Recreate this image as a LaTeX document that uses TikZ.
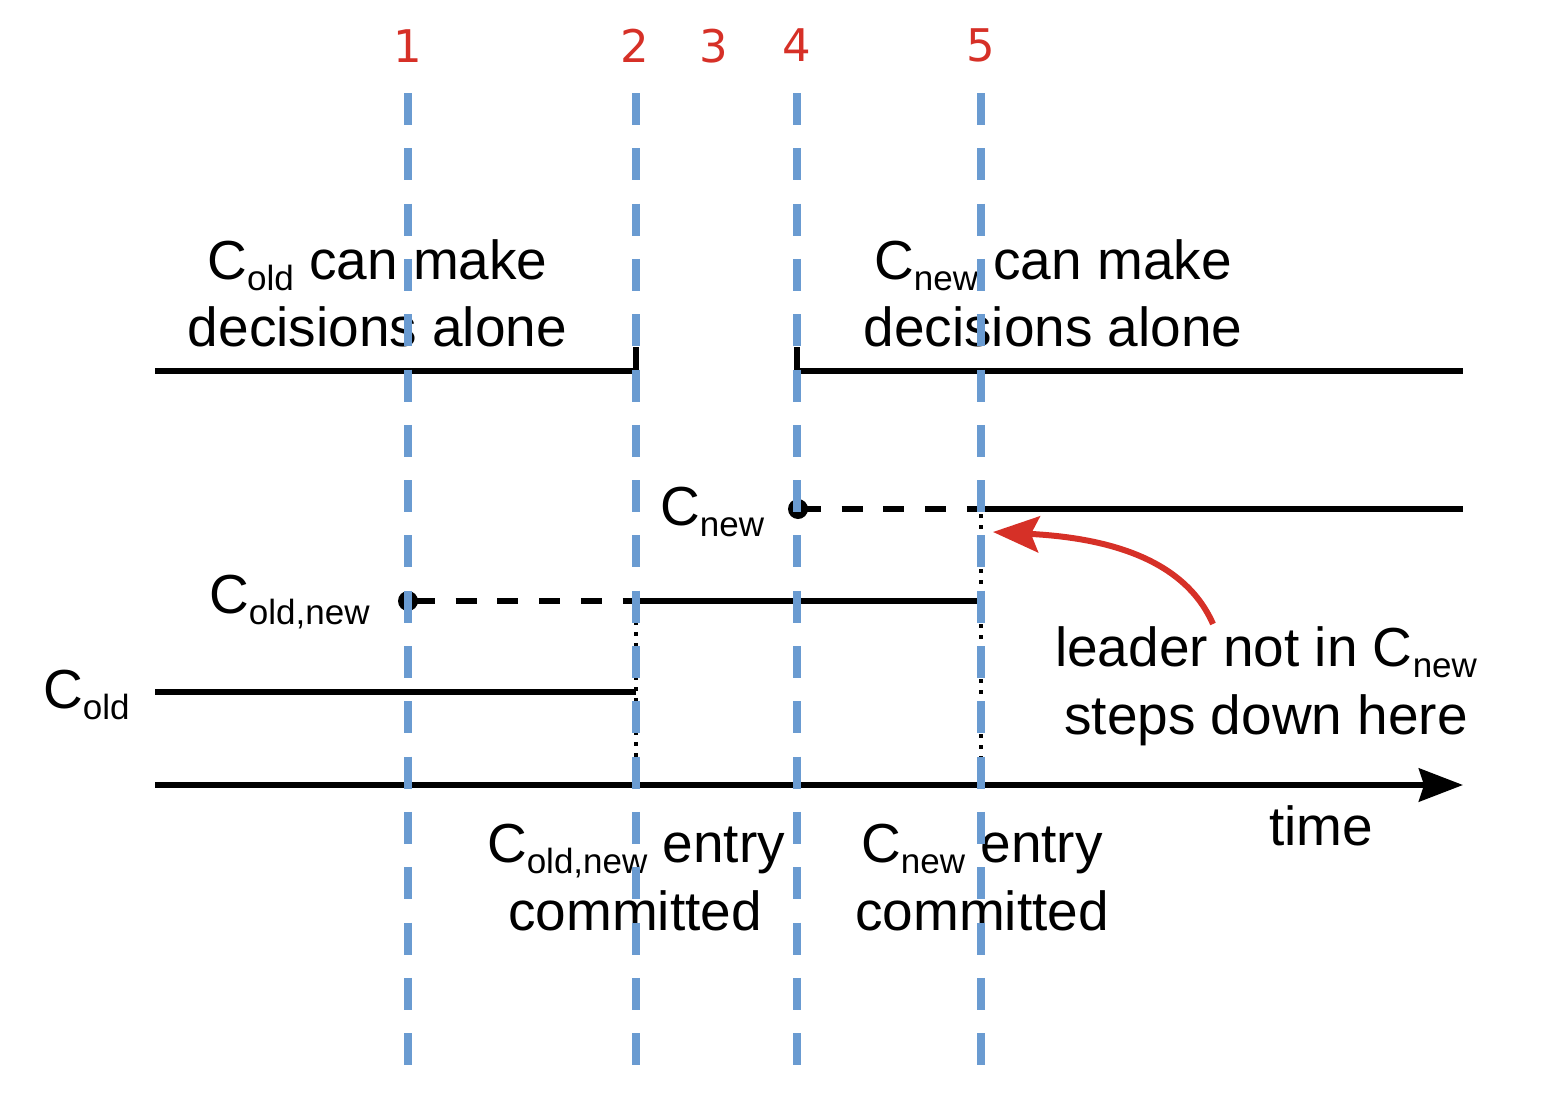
\documentclass[tikz,border=0pt]{standalone}
\usepackage{fontspec}
\setmainfont{Liberation Sans}
\newfontfamily\numfont{DejaVu Sans}
\usetikzlibrary{arrows.meta}
\definecolor{vblue}{HTML}{6A9BD1}
\definecolor{ared}{HTML}{D63027}
\newcommand\lowsub[1]{\raisebox{-11pt}{\fontsize{35}{35}\selectfont #1}}
\begin{document}
\begin{tikzpicture}[x=1pt,y=-1pt,
  lbl/.style={font=\fontsize{55}{66}\selectfont, inner sep=0pt, anchor=base},
  lblw/.style={lbl, anchor=base west},
  num/.style={font=\fontsize{45}{45}\numfont, text=ared, inner sep=0pt, anchor=base},
  phase/.style={draw=vblue, line width=8pt, dash pattern=on 32pt off 23.3pt},
  track/.style={draw=black, line width=6pt},
  pending/.style={draw=black, line width=6pt, dash pattern=on 21pt off 20.7pt},
  joint/.style={draw=black, line width=3.5pt, dash pattern=on 3.5pt off 7.5pt},
  startdot/.style={circle, fill=black, minimum size=20pt, inner sep=0pt},
  note/.style={draw=ared, line width=6pt, -{Stealth[length=46pt,width=36pt,inset=8pt]}}
]
\useasboundingbox (0,0) rectangle (1544,1108);

% coordinates
\coordinate (tl0) at (155,371);
\coordinate (tl1) at (636,371);
\coordinate (tl1u) at (636,347);
\coordinate (tr0u) at (797,347);
\coordinate (tr0) at (797,371);
\coordinate (tr1) at (1463,371);

\coordinate (n0) at (800,509);
\coordinate (n1) at (981,509);
\coordinate (n2) at (1463,509);

\coordinate (on0) at (414,601);
\coordinate (on1) at (636,601);
\coordinate (on2) at (981,601);

\coordinate (o0) at (155,692);
\coordinate (o1) at (636,692);

\coordinate (t0) at (155,785);
\coordinate (t1) at (1463,785);

\coordinate (d2a) at (636,599);
\coordinate (d2b) at (636,785);
\coordinate (d5a) at (981,514);
\coordinate (d5b) at (981,785);

% dots
\node[startdot] (dn) at (798,509) {};
\node[startdot] (don) at (408,601) {};

% decision lines
\draw[track, line join=miter] (tl0) -- (tl1) -- (tl1u);
\draw[track, line join=miter] (tr0u) -- (tr0) -- (tr1);

% C_new
\draw[pending] (n0) -- (n1);
\draw[track] (n1) -- (n2);
% C_old,new
\draw[pending] (on0) -- (on1);
\draw[track] (on1) -- (on2);
% C_old
\draw[track] (o0) -- (o1);

% dotted joints
\draw[joint] (d2a) -- (d2b);
\draw[joint] (d5a) -- (d5b);

% time axis
\draw[track, -{Stealth[length=44pt,width=33pt,inset=5pt]}] (t0) -- (t1);

% labels
\node[lbl] (lold1) at (377.5,279) {C\lowsub{old} can make};
\node[lbl] (lold2) at (377.5,346) {decisions alone};
\node[lbl] (lnew1) at (1053,279) {C\lowsub{new} can make};
\node[lbl] (lnew2) at (1053,346) {decisions alone};

\node[lblw] (cnew) at (660,525) {C\lowsub{new}};
\node[lblw] (coldnew) at (209,613) {C\lowsub{old,new}};
\node[lblw] (cold) at (43,708) {C\lowsub{old}};

\node[lbl] (lead1) at (1266,666) {leader not in C\lowsub{new}};
\node[lbl] (lead2) at (1266,734) {steps down here};

\node[lbl] (time) at (1321,845) {time};

\node[lbl] (e1a) at (636,862) {C\lowsub{old,new} entry};
\node[lbl] (e1b) at (635,930) {committed};
\node[lbl] (e2a) at (982,862) {C\lowsub{new} entry};
\node[lbl] (e2b) at (982,930) {committed};

% red arrow
\coordinate (arS) at (1213,624);
\coordinate (arE) at (993,532);
\draw[note] (arS) .. controls (1185,560) and (1110,538) .. (arE);

% phase lines
\foreach \x/\n in {408/1, 636/2, 797/4, 981/5} {
  \draw[phase] (\x,93) -- (\x,1068);
}

% numbers
\node[num] (p1) at (408,63) {1};
\node[num] (p2) at (635,63) {2};
\node[num] (p3) at (714,63) {3};
\node[num] (p4) at (797,62) {4};
\node[num] (p5) at (981,62) {5};
\end{tikzpicture}
\end{document}
